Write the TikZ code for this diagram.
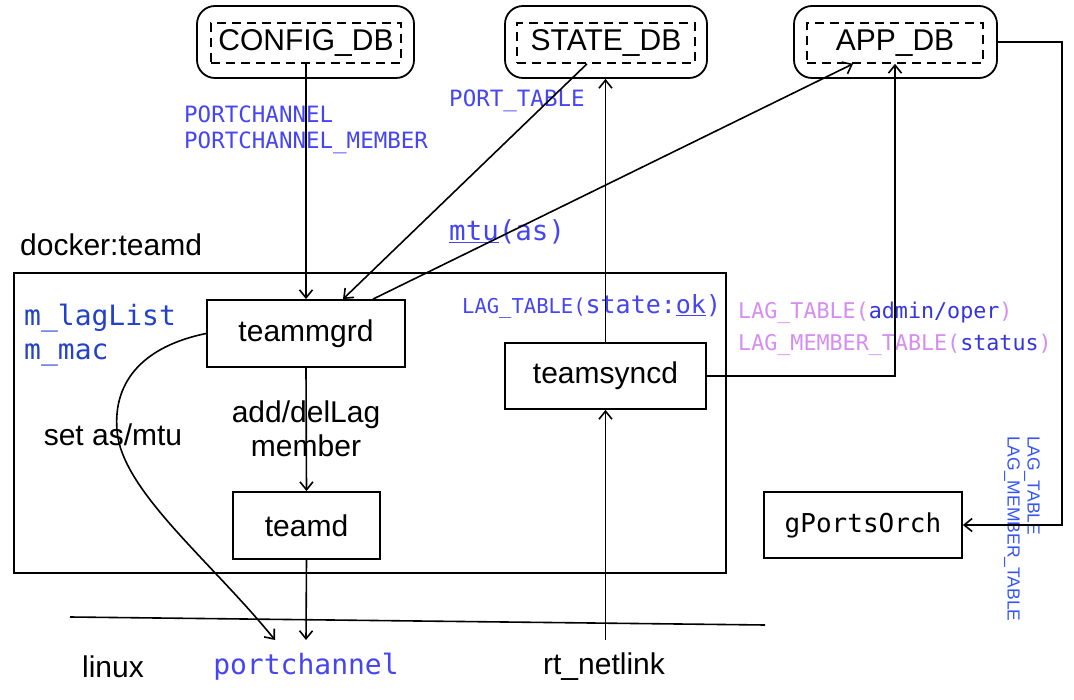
\documentclass[tikz,border=0pt]{standalone}
\usepackage{fontspec}
\setmainfont{Liberation Sans}
\newfontfamily\monof{DejaVu Sans Mono}
\usetikzlibrary{arrows.meta}
\definecolor{lblue}{HTML}{4545F3}
\definecolor{dblue}{HTML}{2442C8}
\definecolor{mblue}{HTML}{3535DD}
\definecolor{pinkc}{HTML}{D68DF2}
\definecolor{rblue}{HTML}{3355F5}
\tikzset{
  conn/.style={line width=1.6pt, -{Straight Barb[length=8pt,width=13pt]}},
  plain/.style={line width=1.6pt},
  procbox/.style={draw, line width=1.8pt, inner sep=0pt, font=\fontsize{30}{34}\selectfont},
  dbouter/.style={draw, line width=1.8pt, rounded corners=18pt, inner sep=0pt},
  dbinner/.style={draw, dashed, dash pattern=on 9pt off 6pt, line width=1.7pt, inner sep=0pt, font=\fontsize{30}{34}\selectfont},
  sanslbl/.style={inner sep=0pt, font=\fontsize{30}{34}\selectfont},
  monolbl/.style={inner sep=0pt, font=\monof\fontsize{22.5}{26}\selectfont, text=lblue},
}
\begin{document}
\begin{tikzpicture}[x=1pt,y=-1pt]
\useasboundingbox[fill=white] (0,0) rectangle (1074,700);

% databases
\node[dbouter, minimum width=217pt, minimum height=72pt] (cfgo) at (305.5,42) {};
\node[dbinner, minimum width=190pt, minimum height=40pt] (cfgi) at (306,43) {CONFIG\_DB};
\node[dbouter, minimum width=202pt, minimum height=72pt] (stateo) at (606,42) {};
\node[dbinner, minimum width=178pt, minimum height=40pt] (statei) at (606,43) {STATE\_DB};
\node[dbouter, minimum width=203pt, minimum height=72pt] (appo) at (895.5,42) {};
\node[dbinner, minimum width=176pt, minimum height=40pt] (appi) at (895,43) {APP\_DB};

% container
\node[draw, line width=1.8pt, minimum width=712pt, minimum height=300pt, inner sep=0pt] (docker) at (370,423) {};
\node[sanslbl, anchor=west] (dockerlbl) at (20,245) {docker:teamd};

% processes
\node[procbox, minimum width=198pt, minimum height=67pt] (teammgrd) at (306,333.5) {teammgrd};
\node[procbox, minimum width=147pt, minimum height=67pt] (teamd) at (306.5,525.5) {teamd};
\node[procbox, minimum width=201pt, minimum height=66pt] (teamsyncd) at (605.5,376) {teamsyncd};
\node[procbox, minimum width=198pt, minimum height=66pt, font=\monof\fontsize{26}{30}\selectfont] (gports) at (863,525) {gPortsOrch};

% labels inside container
\node[inner sep=0pt, anchor=west, font=\monof\fontsize{28}{34}\selectfont, text=dblue, align=left] (mlag) at (24,335) {m\_lagList\\m\_mac};
\node[sanslbl] (setas) at (113,435) {set as/mtu};
\node[sanslbl, align=center] (adddel) at (306,429) {add/delLag\\member};

% database labels
\node[monolbl, anchor=west, align=left] (pclbl) at (184,130) {PORTCHANNEL\\PORTCHANNEL\_MEMBER};
\node[monolbl, anchor=west] (ptlbl) at (449,101) {PORT\_TABLE};
\node[inner sep=0pt, anchor=west, font=\monof\fontsize{27.5}{30}\selectfont, text=lblue] (mtulbl) at (449,232) {\underline{mtu}(as)};
\node[inner sep=0pt, anchor=west, text=lblue] (statelbl) at (462,306) {\monof\fontsize{20.5}{24}\selectfont LAG\_TABLE(\fontsize{25}{28}\selectfont state:\underline{ok})};
\node[inner sep=0pt, anchor=west, font=\monof\fontsize{21.7}{32}\selectfont, align=left] (laglbl) at (738,329) {\textcolor{pinkc}{LAG\_TABLE(}\textcolor{mblue}{admin/oper}\textcolor{pinkc}{)}\\\textcolor{pinkc}{LAG\_MEMBER\_TABLE(}\textcolor{mblue}{status}\textcolor{pinkc}{)}};
\node[inner sep=0pt, anchor=west, rotate=-90, text=rblue, font=\fontsize{17.5}{20}\selectfont] (rot1) at (1032,436) {LAG\_TABLE};
\node[inner sep=0pt, anchor=west, rotate=-90, text=rblue, font=\fontsize{17.5}{20}\selectfont] (rot2) at (1012,436) {LAG\_MEMBER\_TABLE};

% bottom labels
\node[sanslbl] (linux) at (113,667) {linux};
\node[inner sep=0pt, font=\monof\fontsize{28}{32}\selectfont, text=lblue] (pcname) at (306,667) {portchannel};
\node[sanslbl] (rtnl) at (604,667) {rt\_netlink};

% coordinates
\coordinate (linA) at (70,617);
\coordinate (linB) at (765,625);
\coordinate (pcend) at (306,640);
\coordinate (curveend) at (275,640);
\coordinate (rtstart) at (605.5,640);
\coordinate (appcorner) at (1062,42);
\coordinate (gpcorner) at (1062,525);

% connectors
\draw[conn] (cfgi.south) -- (teammgrd.north);
\draw[conn] ([xshift=-19pt]statei.south) -- ([xshift=37pt]teammgrd.north);
\draw[conn] ([xshift=67pt]teammgrd.north) -- ([xshift=-42pt]appi.south);
\draw[conn] (teamsyncd.north) -- (teamsyncd.north |- stateo.south);
\draw[conn] (teamsyncd.east) -| (appi.south);
\draw[conn] (appo.east) -- (appcorner) -- (gpcorner) -- (gports.east);
\draw[conn] (teammgrd.south) -- (teamd.north);
\draw[conn] (teamd.south) -- (pcend);
\draw[conn] (rtstart) -- (teamsyncd.south);
\draw[conn] (teammgrd.west) .. controls (145,346) and (113,380) .. (117,430)
  .. controls (121,490) and (210,560) .. (curveend);
\draw[plain] (linA) -- (linB);
\end{tikzpicture}
\end{document}
